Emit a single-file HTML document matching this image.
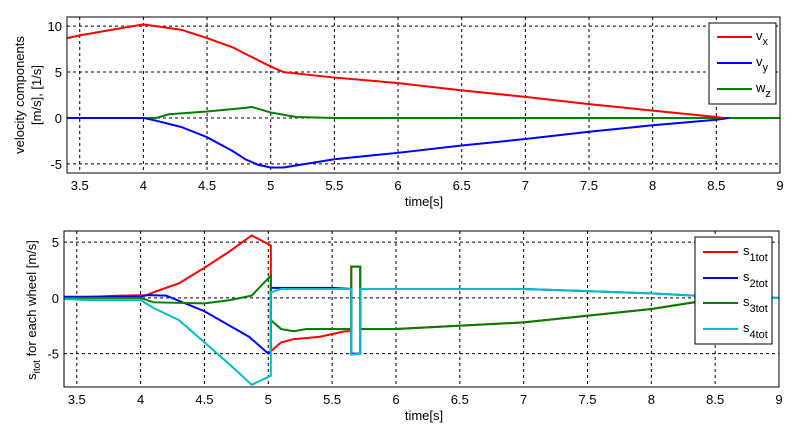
<!DOCTYPE html>
<html><head><meta charset="utf-8"><style>
body{margin:0;background:#fff;width:802px;height:429px;overflow:hidden}
svg text{font-family:"Liberation Sans",Arial,sans-serif;font-size:13px;fill:#000}
</style></head><body>
<svg id="c" width="802" height="429"></svg>
<script>
const ticksX=[3.5,4,4.5,5,5.5,6,6.5,7,7.5,8,8.5,9];
const ticksXLabels=["3.5","4","4.5","5","5.5","6","6.5","7","7.5","8","8.5","9"];
const ticksTopY=[-5,0,5,10];
const ticksBotY=[-5,0,5];
const vxT=[3.4,3.5,4.0,4.3,4.5,4.7,4.8,4.9,5.0,5.1,5.5,6,6.5,7,7.5,8,8.5,8.55];
const vxV=[8.7,9.0,10.2,9.6,8.7,7.7,7.0,6.3,5.6,5.0,4.4,3.8,3.0,2.3,1.5,0.8,0.1,0];
const vyT=[3.4,4.0,4.1,4.3,4.5,4.7,4.8,4.9,5.0,5.1,5.5,6,6.5,7,7.5,8,8.5,8.6];
const vyV=[0,0,-0.3,-1.0,-2.1,-3.6,-4.5,-5.1,-5.4,-5.4,-4.5,-3.8,-3.0,-2.3,-1.5,-0.8,-0.2,0];
const wzT=[3.4,4.1,4.2,4.5,4.8,4.85,5.0,5.2,5.5,9];
const wzV=[0,0,0.4,0.7,1.1,1.2,0.6,0.1,0,0];
const s1T=[3.4,3.85,4.05,4.1,4.3,4.5,4.7,4.87,5.02,5.02,5.1,5.2,5.4,5.6,5.65,5.65,5.72,5.72,6,7,8,8.5,8.6];
const s1V=[0,0.2,0.25,0.5,1.3,2.7,4.2,5.6,4.7,-4.8,-4.0,-3.7,-3.5,-3.0,-3.0,2.8,2.8,-2.8,-2.8,-2.2,-1.0,-0.1,0];
const s2T=[3.4,4.0,4.05,4.2,4.5,4.85,5.0,5.02,5.02,5.5,5.65,5.65,5.72,5.72,7,7.5,8,8.5,9];
const s2V=[0.1,0.1,0.25,0.2,-1.2,-3.5,-5.0,-4.8,0.9,0.9,0.8,-5.0,-5.0,0.8,0.8,0.6,0.4,0.1,0];
const s3T=[3.4,4.0,4.1,4.5,4.7,4.87,5.02,5.02,5.1,5.2,5.3,5.65,5.65,5.72,5.72,6,7,8,8.5,8.6];
const s3V=[0,0,-0.4,-0.5,-0.2,0.2,2.0,-2.0,-2.8,-3.0,-2.8,-2.8,2.8,2.8,-2.8,-2.8,-2.2,-1.0,-0.1,0];
const s4T=[3.4,3.6,4.0,4.1,4.3,4.5,4.7,4.87,5.0,5.02,5.02,5.1,5.65,5.65,5.72,5.72,7,7.5,8,8.5,9];
const s4V=[-0.1,-0.2,-0.2,-0.9,-2.0,-4.0,-6.0,-7.8,-7.1,-7.0,0.5,0.8,0.8,-5.1,-5.0,0.8,0.8,0.6,0.4,0.1,0];

const svg=document.getElementById('c');const NS='http://www.w3.org/2000/svg';
function el(t,a,p){const e=document.createElementNS(NS,t);for(const k in a)e.setAttribute(k,a[k]);(p||svg).appendChild(e);return e;}
function axes(name,L,R,T,B,xmin,xmax,ymin,ymax,yt,series){
  const g=el('g',{});
  
  
  const sx=v=>L+(v-xmin)/(xmax-xmin)*(R-L);
  const sy=v=>B-(v-ymin)/(ymax-ymin)*(B-T);
  ticksX.forEach((t,i)=>{const x=sx(t);
    el('line',{x1:x,x2:x,y1:T,y2:B,stroke:'#000','stroke-dasharray':'3,3','stroke-width':1},g);
    const tx=el('text',{x:x,y:B+17,'text-anchor':'middle'},g);tx.textContent=ticksXLabels[i];
    
    });
  yt.forEach(t=>{const y=sy(t);
    el('line',{x1:L,x2:R,y1:y,y2:y,stroke:'#000','stroke-dasharray':'3,3','stroke-width':1},g);
    const tx=el('text',{x:L-5,y:y+5,'text-anchor':'end'},g);tx.textContent=String(t);
    
    });
  series.forEach(s=>{const p=el('polyline',{points:s.t.map((t,i)=>sx(t)+','+sy(s.v[i])).join(' '),fill:'none',stroke:s.c,'stroke-width':2},g);
    
    });
  el('rect',{x:L,y:T,width:R-L,height:B-T,fill:'none',stroke:'#000','stroke-width':1},g);
  return g;
}
axes('top-plot',67,780,17,173,3.4,9,-6,11,ticksTopY,[
 {t:wzT,v:wzV,c:'#007f00',n:'line-wz'},{t:vyT,v:vyV,c:'#0000ff',n:'line-vy'},{t:vxT,v:vxV,c:'#ff0000',n:'line-vx'}]);
axes('bottom-plot',64,779,231,387,3.4,9,-8,6,ticksBotY,[
 {t:s1T,v:s1V,c:'#ff0000',n:'line-s1tot'},{t:s2T,v:s2V,c:'#0000ff',n:'line-s2tot'},{t:s3T,v:s3V,c:'#007f00',n:'line-s3tot'},{t:s4T,v:s4V,c:'#00bfbf',n:'line-s4tot'}]);
</script>
<svg width="802" height="429" style="position:absolute;left:0;top:0">
<g font-family="Liberation Sans, Arial, sans-serif" font-size="13">
<text x="424" y="206" text-anchor="middle">time[s]</text>
<text x="424" y="420" text-anchor="middle">time[s]</text>
<text transform="translate(24,95) rotate(-90)" text-anchor="middle">velocity components</text>
<text transform="translate(41,95) rotate(-90)" text-anchor="middle">[m/s], [1/s]</text>
<text transform="translate(36,310) rotate(-90)" text-anchor="middle">s<tspan font-size="10" dy="4">itot</tspan><tspan dy="-4"> for each wheel [m/s]</tspan></text>
<g>
<rect x="709" y="23" width="67" height="81" fill="#fff" stroke="#000"/>
<line x1="717" x2="752" y1="37" y2="37" stroke="#f00" stroke-width="2"/>
<text x="756" y="40">v<tspan font-size="11" dy="5">x</tspan></text>
<line x1="717" x2="752" y1="63" y2="63" stroke="#00f" stroke-width="2"/>
<text x="756" y="66">v<tspan font-size="11" dy="5">y</tspan></text>
<line x1="717" x2="752" y1="89" y2="89" stroke="#007f00" stroke-width="2"/>
<text x="756" y="92">w<tspan font-size="11" dy="5">z</tspan></text>
</g>
<g>
<rect x="695" y="237" width="77" height="107" fill="#fff" stroke="#000"/>
<line x1="703" x2="738" y1="252" y2="252" stroke="#f00" stroke-width="2"/>
<text x="743" y="255">s<tspan font-size="11" dy="6">1tot</tspan></text>
<line x1="703" x2="738" y1="278" y2="278" stroke="#00f" stroke-width="2"/>
<text x="743" y="281">s<tspan font-size="11" dy="6">2tot</tspan></text>
<line x1="703" x2="738" y1="303" y2="303" stroke="#007f00" stroke-width="2"/>
<text x="743" y="306">s<tspan font-size="11" dy="6">3tot</tspan></text>
<line x1="703" x2="738" y1="329" y2="329" stroke="#00bfbf" stroke-width="2"/>
<text x="743" y="332">s<tspan font-size="11" dy="6">4tot</tspan></text>
</g>
</g></svg>
</body></html>
